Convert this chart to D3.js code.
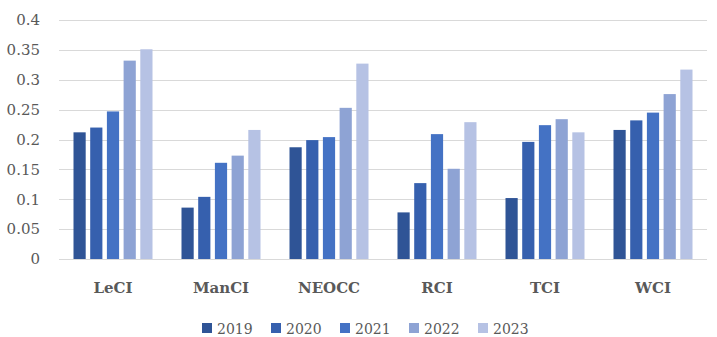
<!DOCTYPE html>
<html>
<head>
<meta charset="utf-8">
<script src="https://cdn.jsdelivr.net/npm/d3@7"></script>
<style>
  html, body { margin: 0; padding: 0; background: #fff; }
  svg { display: block; }
  svg text { font-family: "DejaVu Serif", "Liberation Serif", serif; fill: #595959; }
</style>
</head>
<body>
<svg id="chart" width="717" height="337"></svg>
<script>
// Index values by region and year
const categories = ["LeCI", "ManCI", "NEOCC", "RCI", "TCI", "WCI"];
const years = ["2019", "2020", "2021", "2022", "2023"];
const v2019 = [0.212, 0.086, 0.187, 0.078, 0.102, 0.216];
const v2020 = [0.220, 0.104, 0.199, 0.127, 0.196, 0.232];
const v2021 = [0.247, 0.161, 0.204, 0.209, 0.224, 0.245];
const v2022 = [0.332, 0.173, 0.253, 0.151, 0.234, 0.276];
const v2023 = [0.351, 0.216, 0.327, 0.229, 0.212, 0.317];
const yTicks = [0, 0.05, 0.1, 0.15, 0.2, 0.25, 0.3, 0.35, 0.4];
const yTickLabels = ["0", "0.05", "0.1", "0.15", "0.2", "0.25", "0.3", "0.35", "0.4"];
const colors = ["#2F5496", "#3660AE", "#4472C4", "#8EA3D4", "#B6C2E4"];

const series = [v2019, v2020, v2021, v2022, v2023];
const rows = [];
categories.forEach((c, i) => {
  years.forEach((yr, j) => rows.push({ cat: c, year: yr, value: series[j][i] }));
});

const svg = d3.select("#chart");
const plot = { left: 59, right: 707, top: 20, bottom: 259 };

const x0 = d3.scaleBand().domain(categories).range([plot.left, plot.right]).padding(0);
const groupPad = (x0.bandwidth() - 79) / 2;
const x1 = d3.scaleBand().domain(years)
  .range([groupPad, x0.bandwidth() - groupPad])
  .paddingInner(0.27).paddingOuter(0);
const y = d3.scaleLinear().domain([0, 0.4]).range([plot.bottom, plot.top]);
const color = d3.scaleOrdinal().domain(years).range(colors);

// Gridlines
svg.append("g")
  .selectAll("line")
  .data(yTicks)
  .join("line")
  .attr("x1", plot.left)
  .attr("x2", plot.right)
  .attr("y1", d => Math.round(y(d)) + 0.5)
  .attr("y2", d => Math.round(y(d)) + 0.5)
  .attr("stroke", "#D9D9D9")
  .attr("stroke-width", 1);

// Y axis labels
const yAxis = d3.axisLeft(y)
  .tickValues(yTicks)
  .tickFormat((d, i) => yTickLabels[i])
  .tickSize(0)
  .tickPadding(0);
const yg = svg.append("g")
  .attr("transform", `translate(${plot.left - 19},0)`)
  .call(yAxis)
  .attr("font-family", null);
yg.select(".domain").remove();
yg.selectAll("text")
  .attr("font-size", 15)
  .attr("fill", "#595959");

// Bars
svg.append("g")
  .selectAll("rect")
  .data(rows)
  .join("rect")
  .attr("x", d => x0(d.cat) + x1(d.year))
  .attr("y", d => y(d.value))
  .attr("width", x1.bandwidth())
  .attr("height", d => y(0) - y(d.value))
  .attr("fill", d => color(d.year));

// Category axis
const xAxis = d3.axisBottom(x0).tickSize(0).tickPadding(0);
const xg = svg.append("g")
  .attr("transform", `translate(0,${plot.bottom + 34})`)
  .call(xAxis)
  .attr("font-family", null);
xg.select(".domain").remove();
xg.selectAll("text")
  .attr("dy", 0)
  .attr("font-size", 15)
  .attr("font-weight", "bold")
  .attr("fill", "#595959");

// Legend
const legendX = [202, 271, 340, 409, 478];
const legend = svg.append("g")
  .selectAll("g")
  .data(years)
  .join("g")
  .attr("transform", (d, i) => `translate(${legendX[i]},323)`);
legend.append("rect")
  .attr("width", 10).attr("height", 10)
  .attr("fill", d => color(d));
legend.append("text")
  .attr("x", 15).attr("y", 10.5)
  .attr("font-size", 14)
  .text(d => d);
</script>
</body>
</html>
